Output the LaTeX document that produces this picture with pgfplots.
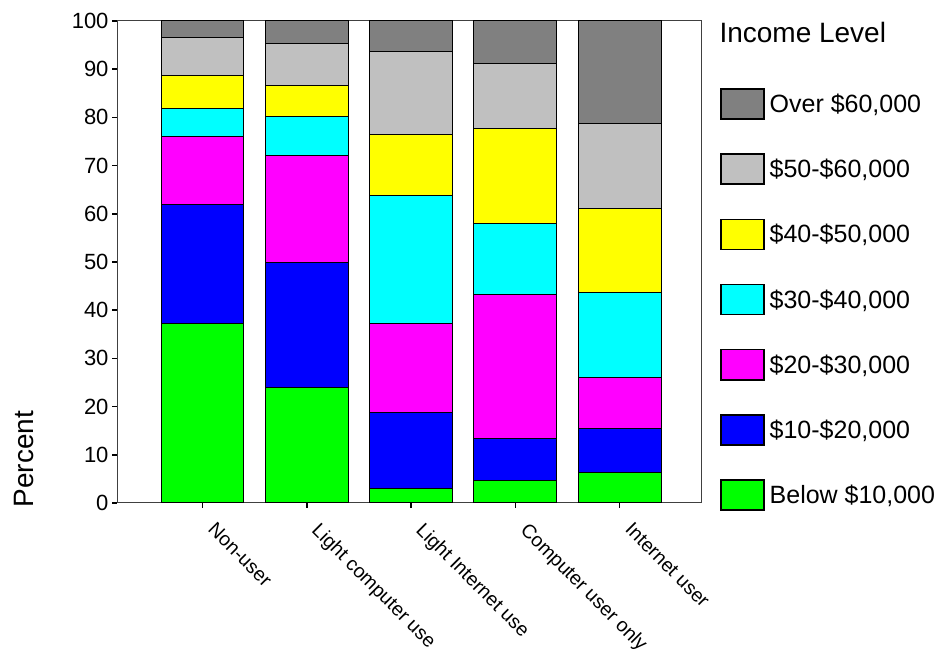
\documentclass[border=0pt]{standalone}
\usepackage{fontspec}
\setmainfont{Liberation Sans}
\usepackage{pgfplots}
\pgfplotsset{compat=1.18}
\definecolor{cOver}{HTML}{808080}
\definecolor{cFifty}{HTML}{C0C0C0}
\definecolor{cForty}{HTML}{FFFF00}
\definecolor{cThirty}{HTML}{00FFFF}
\definecolor{cTwenty}{HTML}{FF00FF}
\definecolor{cTen}{HTML}{0000FF}
\definecolor{cBelow}{HTML}{00FF00}
\pgfplotsset{myleg/.style={legend image code/.code={\draw[##1, draw=black, line width=1.5bp] (0bp,-15bp) rectangle (43bp,15bp);}}}
\begin{document}
\begin{tikzpicture}
\path (0,0) rectangle (939bp,656bp);
\begin{axis}[
  at={(117bp,153bp)}, anchor=south west,
  width=584bp, height=482bp, scale only axis,
  ybar stacked, bar width=0.795,
  xmin=-0.82, xmax=4.78, ymin=0, ymax=100,
  xtick={0,1,2,3,4},
  xticklabels={Non-user, Light computer use, Light Internet use, Computer user only, Internet user},
  ytick={0,10,...,100},
  tick pos=left, tick align=outside, major tick length=5bp,
  /pgf/number format/assume math mode=true,
  yticklabel style={font=\fontsize{22bp}{26bp}\selectfont},
  xticklabel style={font=\fontsize{19.5bp}{24bp}\selectfont, rotate=-45, anchor=north west, xshift=16bp, yshift=4bp},
  axis line style={black!75, line width=1bp},
  every tick/.style={black, line width=1.5bp},
  myleg,
  reverse legend,
  legend cell align=left,
  legend style={at={(axis description cs:1.0325,0.861)}, anchor=north west,
    draw=none, fill=none, inner sep=0pt, row sep=33.7bp, column sep=5bp,
    font=\fontsize{25bp}{30bp}\selectfont, nodes={inner sep=0pt}},
]
\addplot[fill=cBelow, draw=black, line width=1bp, myleg] coordinates {(0,37.2) (1,23.9) (2,3.1) (3,4.7) (4,6.4)};
\addplot[fill=cTen, draw=black, line width=1bp, myleg] coordinates {(0,24.8) (1,25.9) (2,15.6) (3,8.7) (4,9.0)};
\addplot[fill=cTwenty, draw=black, line width=1bp, myleg] coordinates {(0,14.1) (1,22.2) (2,18.5) (3,29.9) (4,10.7)};
\addplot[fill=cThirty, draw=black, line width=1bp, myleg] coordinates {(0,5.7) (1,8.1) (2,26.5) (3,14.7) (4,17.5)};
\addplot[fill=cForty, draw=black, line width=1bp, myleg] coordinates {(0,6.9) (1,6.5) (2,12.8) (3,19.6) (4,17.6)};
\addplot[fill=cFifty, draw=black, line width=1bp, myleg] coordinates {(0,7.8) (1,8.7) (2,17.1) (3,13.6) (4,17.6)};
\addplot[fill=cOver, draw=black, line width=1bp, myleg] coordinates {(0,3.5) (1,4.7) (2,6.4) (3,8.8) (4,21.2)};
\legend{Below \$10{,}000, \$10-\$20{,}000, \$20-\$30{,}000, \$30-\$40{,}000, \$40-\$50{,}000, \$50-\$60{,}000, Over \$60{,}000}
\end{axis}
\node[anchor=base west, font=\fontsize{28bp}{32bp}\selectfont] at (716bp,613bp) {Income Level};
\node[anchor=base, rotate=90, font=\fontsize{28bp}{32bp}\selectfont] at (33bp,197bp) {Percent};
\end{tikzpicture}
\end{document}
